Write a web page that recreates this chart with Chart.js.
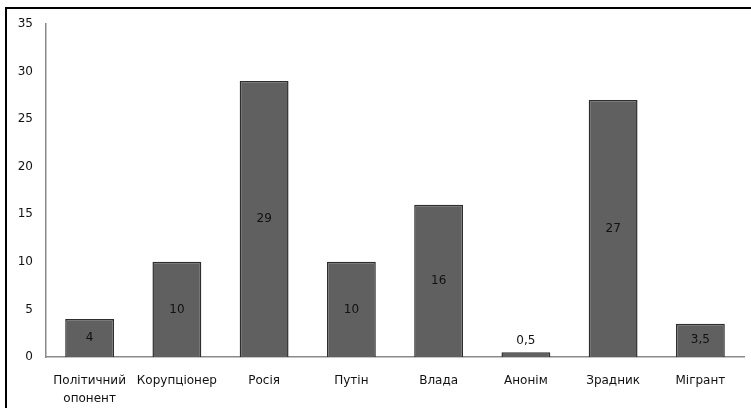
<!DOCTYPE html>
<html>
<head>
<meta charset="utf-8">
<script src="https://cdn.jsdelivr.net/npm/chart.js@4"></script>
<style>
  html, body { margin: 0; padding: 0; background: #fff; overflow: hidden; }
  #wrap { position: relative; width: 751px; height: 408px; overflow: hidden; }
  #frame { position: absolute; left: 5px; top: 7px; width: 746px; height: 401px;
           border-left: 2px solid #000; border-top: 2px solid #000; box-sizing: border-box; }
  canvas { position: absolute; left: 0; top: 0; }
</style>
</head>
<body>
<div id="wrap">
  <div id="frame"></div>
  <canvas id="chart" width="751" height="408"></canvas>
</div>
<script>
const categories = [['Політичний', 'опонент'], 'Корупціонер', 'Росія', 'Путін', 'Влада', 'Анонім', 'Зрадник', 'Мігрант'];
const values = [4, 10, 29, 10, 16, 0.5, 27, 3.5];
const yTicks = [0, 5, 10, 15, 20, 25, 30, 35];

// підписи значень усередині стовпчиків (або над ними, якщо стовпчик низький)
const valueLabels = {
    id: 'valueLabels',
    afterDatasetsDraw(chart) {
        const ctx = chart.ctx;
        const meta = chart.getDatasetMeta(0);
        ctx.save();
        ctx.font = '12px "DejaVu Sans"';
        ctx.fillStyle = '#111';
        ctx.textAlign = 'center';
        ctx.textBaseline = 'middle';
        meta.data.forEach((bar, i) => {
            const text = String(values[i]).replace('.', ',');
            const h = bar.base - bar.y;
            const y = h < 16 ? bar.y - 11 : (bar.y + bar.base) / 2;
            ctx.fillText(text, bar.x, y);
        });
        ctx.restore();
    }
};

new Chart(document.getElementById('chart').getContext('2d'), {
    type: 'bar',
    data: {
        labels: categories,
        datasets: [{
            data: values,
            backgroundColor: '#606060',
            borderColor: '#2e2e2e',
            borderWidth: 1.5,
            categoryPercentage: 1,
            barPercentage: 0.56
        }]
    },
    options: {
        responsive: false,
        animation: false,
        layout: { padding: { left: 0, right: 7, top: 24, bottom: 0 } },
        plugins: { legend: { display: false }, tooltip: { enabled: false } },
        scales: {
            y: {
                min: 0,
                max: 35,
                afterBuildTicks: (scale) => { scale.ticks = yTicks.map(v => ({ value: v })); },
                afterFit: (scale) => { scale.width = 46; },
                grid: { display: false, drawTicks: false },
                border: { display: true, color: '#8a8a8a', width: 1.5 },
                ticks: { color: '#111', padding: 13, font: { family: 'DejaVu Sans', size: 12 } }
            },
            x: {
                afterFit: (scale) => { scale.height = 51; },
                grid: { display: false, drawTicks: false },
                border: { display: true, color: '#8a8a8a', width: 1.5 },
                ticks: { color: '#111', padding: 15, maxRotation: 0, autoSkip: false,
                         font: { family: 'DejaVu Sans', size: 12, lineHeight: 1.5 } }
            }
        }
    },
    plugins: [valueLabels]
});
</script>
</body>
</html>
